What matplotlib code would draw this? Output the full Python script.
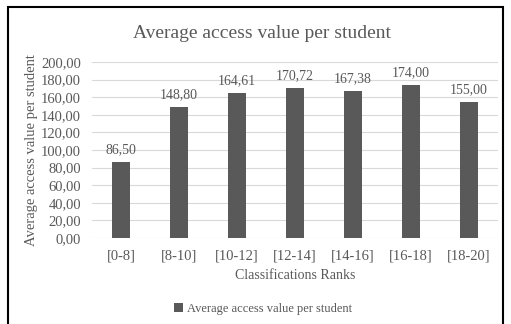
import matplotlib.pyplot as plt
from matplotlib.patches import Rectangle

# Valeur moyenne d'accès par étudiant selon le rang de classement
rangs = ['[0-8]', '[8-10]', '[10-12]', '[12-14]', '[14-16]', '[16-18]', '[18-20]']
valeurs = [86.50, 148.80, 164.61, 170.72, 167.38, 174.00, 155.00]
graduations = [0, 20, 40, 60, 80, 100, 120, 140, 160, 180, 200]

gris_texte = '#595959'
plt.rcParams['font.family'] = ['Liberation Serif', 'DejaVu Serif']

fig = plt.figure(figsize=(5.11, 3.24), dpi=100)
ax = fig.add_axes([92 / 511, 1 - 238 / 324, 406 / 511, 176 / 324])

x = range(len(rangs))
barres = ax.bar(x, valeurs, width=0.31, color='#595959', zorder=3,
                label='Average access value per student')

for b, v in zip(barres, valeurs):
    ax.annotate(f'{v:.2f}'.replace('.', ','), (b.get_x() + b.get_width() / 2, v),
                textcoords='offset points', xytext=(0, 4), ha='center', va='bottom',
                fontsize=10, color=gris_texte)

ax.set_xlim(-0.5, len(rangs) - 0.5)
ax.set_ylim(0, 200)
ax.set_yticks(graduations)
ax.set_yticklabels([f'{g:.2f}'.replace('.', ',') for g in graduations])
ax.set_xticks(list(x))
ax.set_xticklabels(rangs)
ax.tick_params(length=0, labelsize=10.5, labelcolor=gris_texte)
ax.tick_params(axis='x', pad=8)
ax.tick_params(axis='y', pad=8)
ax.grid(axis='y', color='#d9d9d9', linewidth=0.8, zorder=0)
for s in ax.spines.values():
    s.set_visible(False)

ax.set_xlabel('Classifications Ranks', fontsize=10, color=gris_texte, labelpad=5)
ax.set_ylabel('Average access value per student', fontsize=10.5, color=gris_texte, labelpad=2)
fig.text(0.512, 1 - 33 / 324, 'Average access value per student', ha='center', va='center',
         fontsize=14, color=gris_texte)

fig.legend(handles=[barres], loc='center', bbox_to_anchor=(0.515, 1 - 309 / 324),
           frameon=False, fontsize=9, labelcolor=gris_texte, handlelength=0.7,
           handleheight=0.7, handletextpad=0.3)

# Cadre noir autour du graphique
fig.patches.append(Rectangle((8 / 511, -0.05), 495 / 511, 1.05 - 7 / 324,
                             transform=fig.transFigure, fill=False,
                             edgecolor='black', linewidth=1.5))

fig.savefig('out.png', dpi=100)
